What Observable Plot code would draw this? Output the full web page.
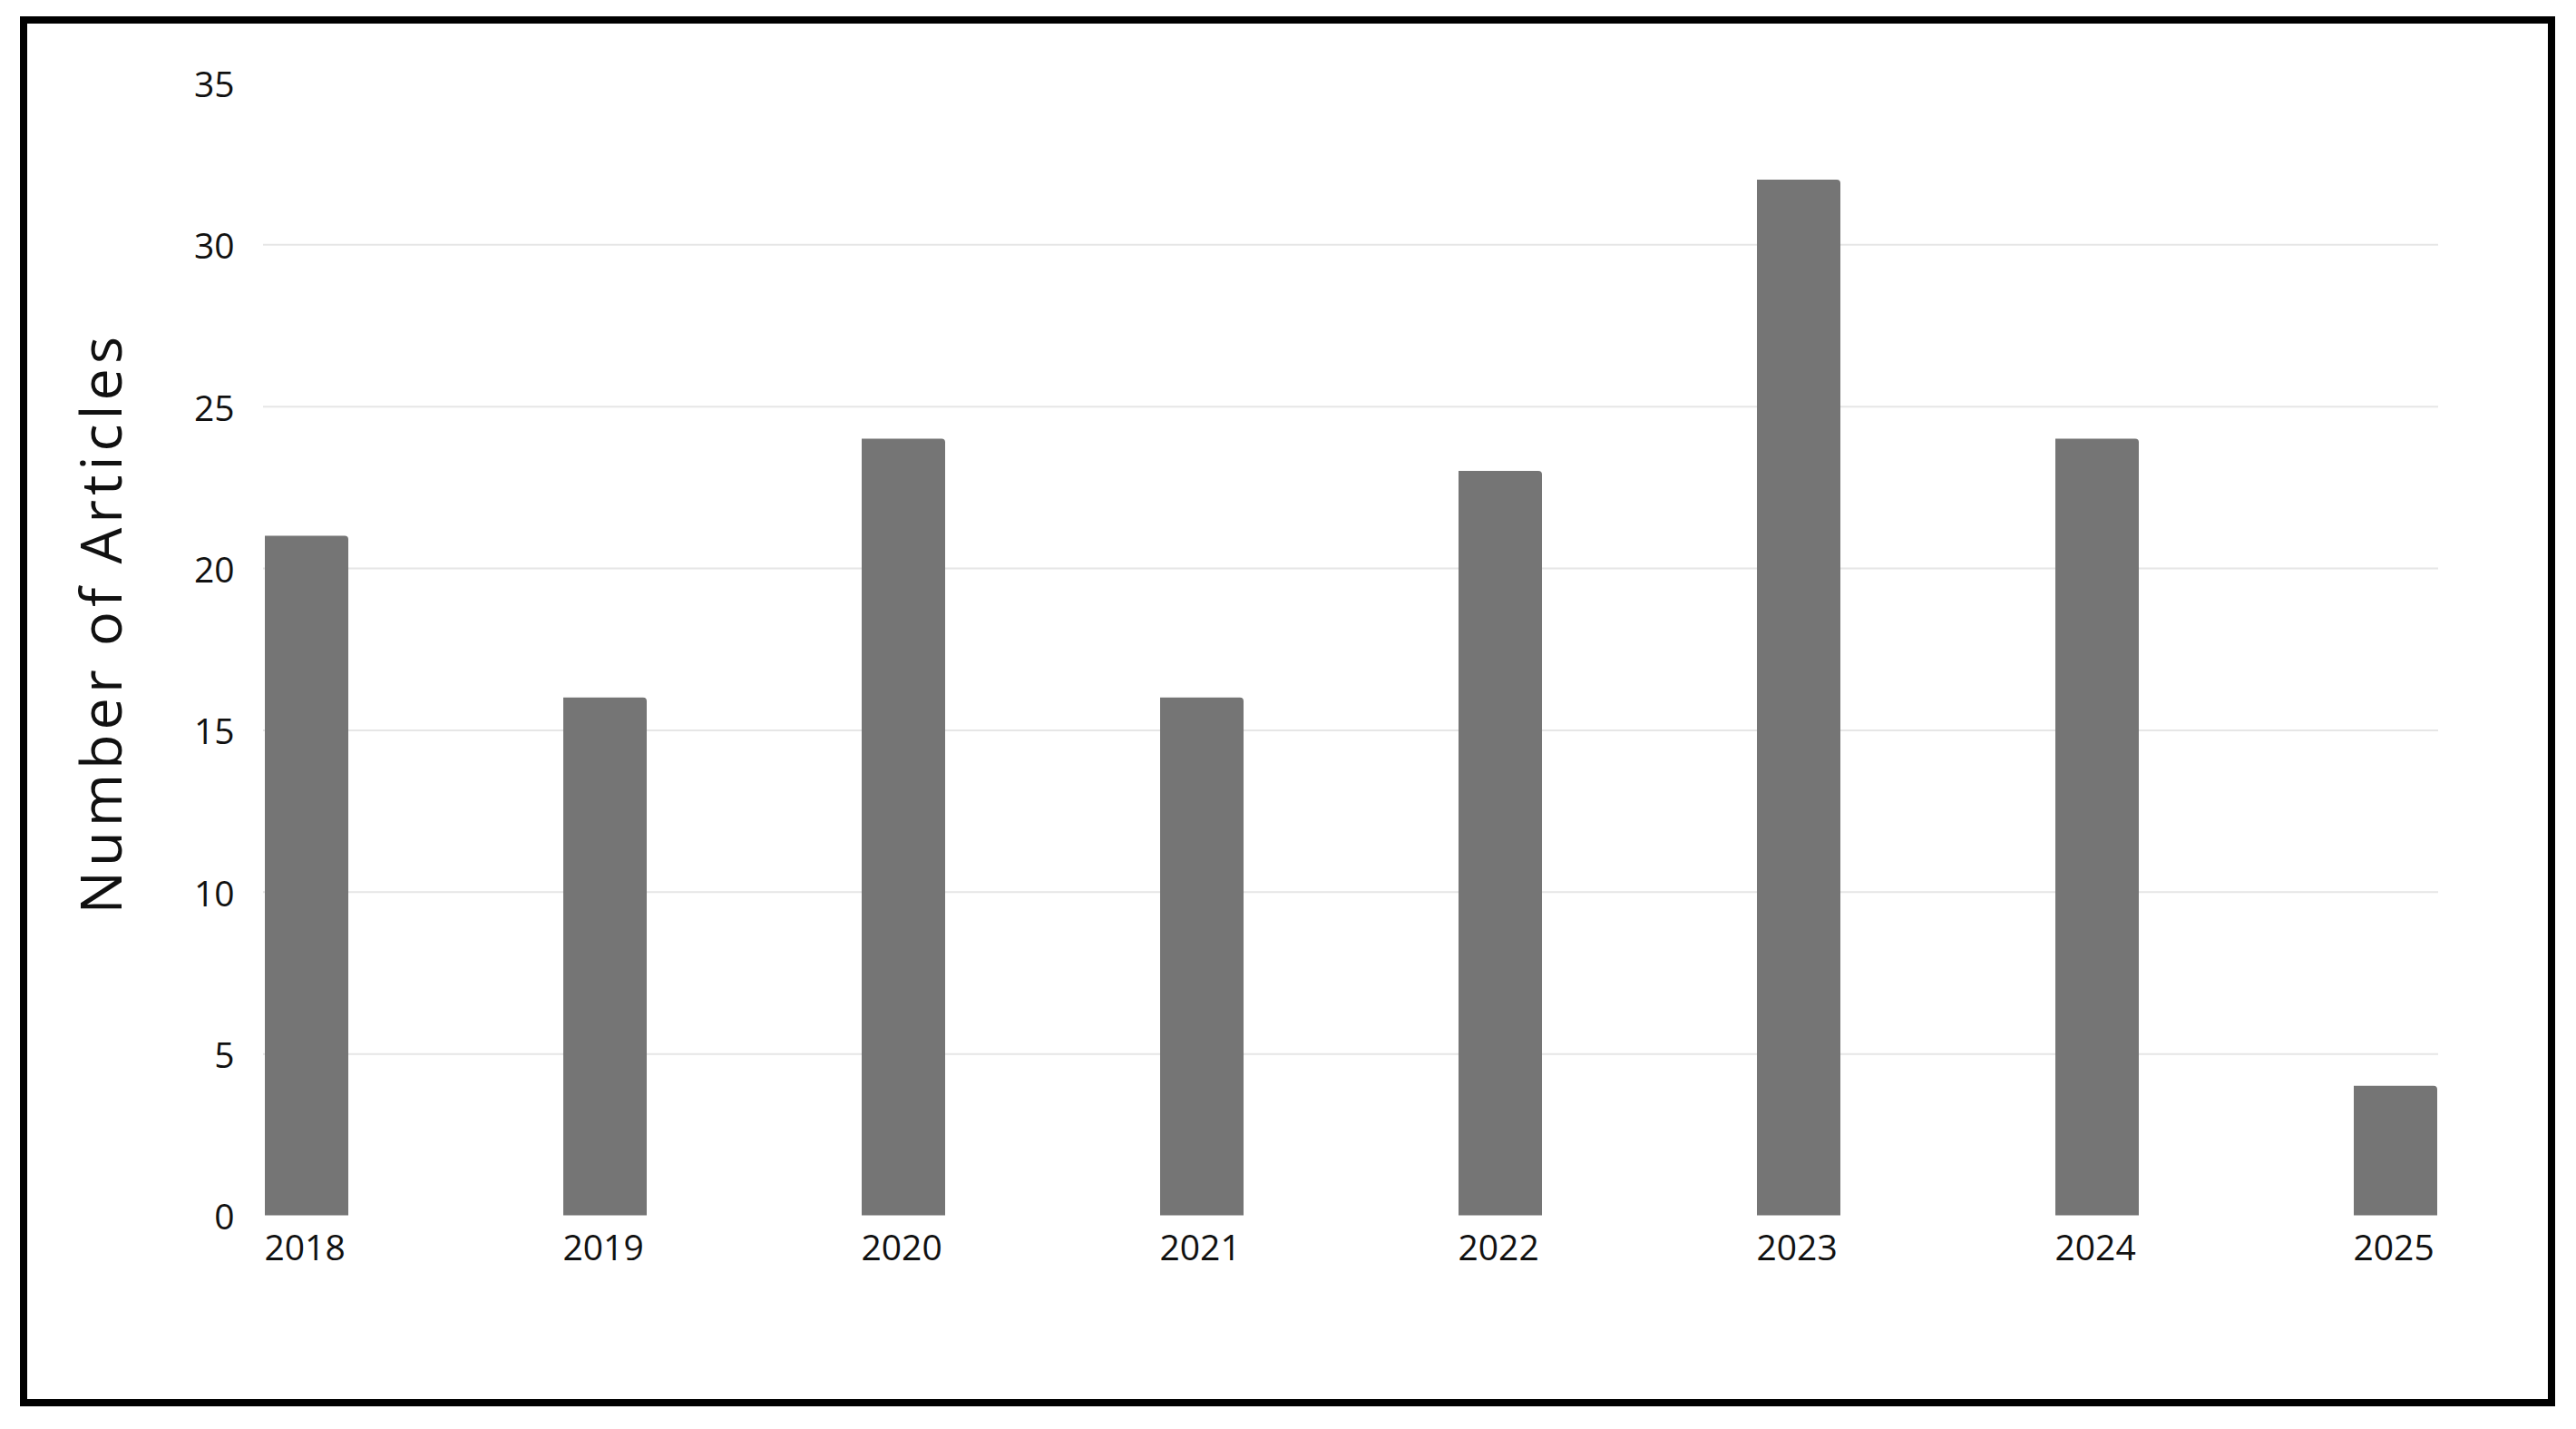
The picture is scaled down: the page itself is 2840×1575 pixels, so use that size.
<!DOCTYPE html>
<html>
<head>
<meta charset="utf-8">
<script src="https://cdn.jsdelivr.net/npm/d3@7"></script>
<script src="https://cdn.jsdelivr.net/npm/@observablehq/plot@0.6"></script>
<style>
  html, body { margin: 0; padding: 0; background: #fff; overflow: hidden; }
  #wrap { position: relative; width: 2840px; height: 1575px; }
  #frame { position: absolute; left: 22px; top: 18px; width: 2795px; height: 1532px;
           border: 8px solid #000; box-sizing: border-box; pointer-events: none; }
  svg { display: block; }
  .ylabel text { letter-spacing: 5px; }
</style>
</head>
<body>
<div id="wrap"><div id="frame"></div></div>
<script>
const years = ["2018", "2019", "2020", "2021", "2022", "2023", "2024", "2025"];
const articles = [21, 16, 24, 16, 23, 32, 24, 4];
const yTicks = [0, 5, 10, 15, 20, 25, 30, 35];
const gridValues = [5, 10, 15, 20, 25, 30];
const yLabel = "Number of Articles";

const data = years.map((year, i) => ({year, count: articles[i]}));

const chart = Plot.plot({
  width: 2840,
  height: 1575,
  marginLeft: 290,
  marginRight: 152,
  marginTop: 91,
  marginBottom: 235.5,
  style: {fontFamily: "'Open Sans', sans-serif", background: "transparent", color: "#111"},
  x: {domain: years, paddingInner: 0.721, paddingOuter: 0},
  y: {domain: [0, 35]},
  marks: [
    Plot.ruleY(gridValues, {stroke: "#e6e6e6", strokeWidth: 2}),
    Plot.barY(data, {x: "year", y: "count", fill: "#757575", ry1: 4, rx1: 0}),
    Plot.axisY({ticks: yTicks, tickSize: 0, tickPadding: 32, fontSize: 39, label: null, fill: "#111", dy: 3}),
    Plot.axisX({tickSize: 0, tickPadding: 21, fontSize: 39, label: null, textAnchor: "start", dx: -47, fill: "#111"}),
    Plot.text([yLabel], {frameAnchor: "left", rotate: -90, dx: -176.5, dy: -29, fontSize: 63,
      fill: "#111", textAnchor: "middle", lineAnchor: "middle", className: "ylabel"})
  ]
});
d3.select(chart).selectAll("text")
  .filter(function() { return this.textContent === yLabel; })
  .style("letter-spacing", "5px");
const wrap = document.getElementById("wrap");
wrap.insertBefore(chart, wrap.firstChild);
chart.style.position = "absolute";
chart.style.left = "0";
chart.style.top = "0";
</script>
</body>
</html>
